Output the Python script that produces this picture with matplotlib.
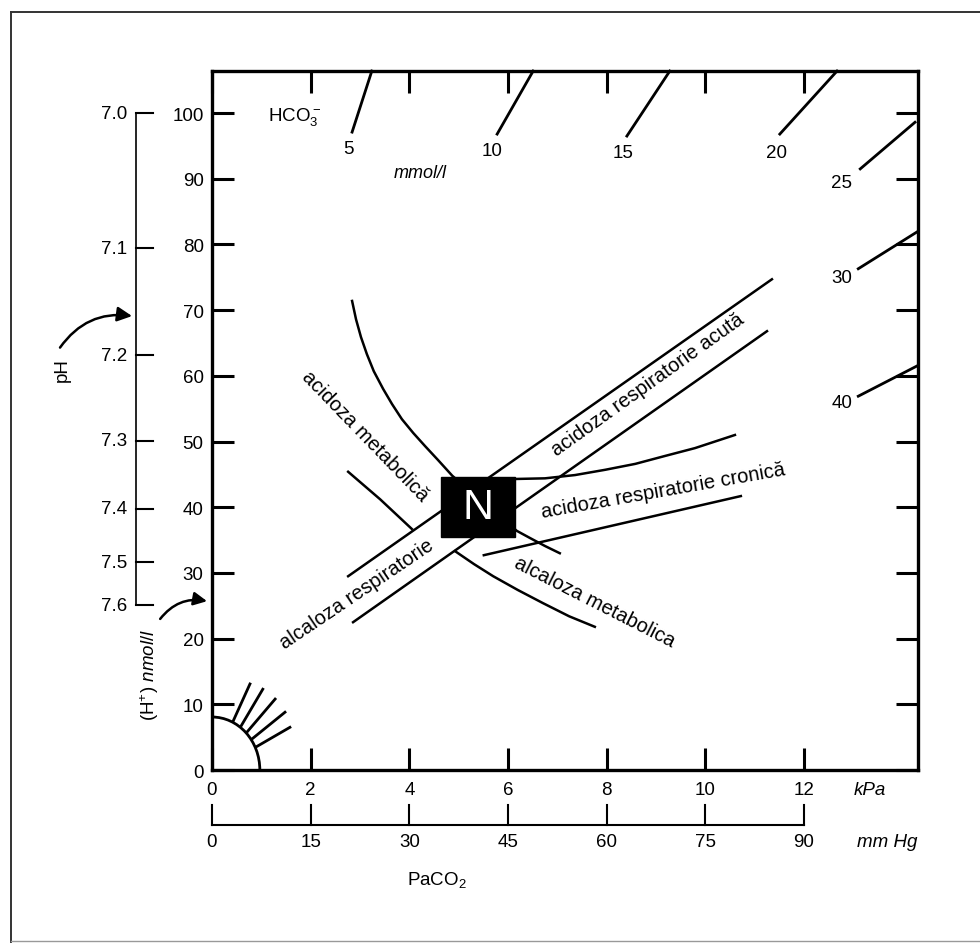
import numpy as np
import matplotlib
matplotlib.use("Agg")
import matplotlib.pyplot as plt
from matplotlib.patches import Rectangle, Arc
from matplotlib.lines import Line2D

plt.rcParams['font.family'] = ['Liberation Sans', 'DejaVu Sans']
plt.rcParams['mathtext.fontset'] = 'custom'
plt.rcParams['mathtext.rm'] = 'Liberation Sans'
plt.rcParams['mathtext.it'] = 'Liberation Sans:italic'
plt.rcParams['mathtext.bf'] = 'Liberation Sans:bold'

# axes: PaCO2 (kPa) on x, [H+] (nmol/l) on y
kpa_ticks = [0, 2, 4, 6, 8, 10, 12]
mmhg_labels = [0, 15, 30, 45, 60, 75, 90]
h_ticks = [0, 10, 20, 30, 40, 50, 60, 70, 80, 90, 100]

# pH scale, placed at the matching [H+] values
ph_labels = ["7.0", "7.1", "7.2", "7.3", "7.4", "7.5", "7.6"]
ph_h = [100, 79.4, 63.1, 50.1, 39.8, 31.6, 25.1]

# HCO3- isopleth stubs (start -> end on frame) and their labels
hco3_labels = ["5", "10", "15", "20", "25", "30", "40"]
hco3_x0 = [2.84, 5.78, 8.41, 11.51, 13.14, 13.10, 13.10]
hco3_y0 = [97.1, 96.8, 96.5, 96.8, 91.5, 76.3, 56.9]
hco3_x1 = [3.24, 6.51, 9.28, 12.67, 14.25, 14.29, 14.29]
hco3_y1 = [106.4, 106.4, 106.4, 106.4, 98.6, 81.9, 61.5]
hco3_lx = [2.76, 5.68, 8.33, 11.45, 12.77, 12.77, 12.77]
hco3_ly = [94.6, 94.3, 94.0, 94.0, 89.4, 75.0, 56.0]

# band boundaries
resp_upper_x = [2.76, 11.35]
resp_upper_y = [29.5, 74.7]
resp_lower_x = [2.86, 11.25]
resp_lower_y = [22.5, 66.8]
met_acid_x = [2.84, 2.92, 3.02, 3.14, 3.28, 3.47, 3.65, 3.85, 4.08, 4.32, 4.58, 4.87,
              5.53, 6.18, 6.45, 6.75, 7.05]
met_acid_y = [71.4, 68.6, 65.9, 63.3, 60.7, 58.0, 55.7, 53.4, 51.3, 49.3, 47.2, 44.8,
              40.5, 36.4, 35.3, 34.1, 33.0]
met_alk_x = [2.76, 3.41, 4.05, np.nan, 4.93, 5.31, 5.70, 6.20, 6.71, 7.24, 7.76]
met_alk_y = [45.4, 41.2, 36.7, np.nan, 33.3, 31.35, 29.5, 27.4, 25.4, 23.4, 21.8]
chron_upper_x = [6.14, 6.75, 7.36, 7.97, 8.58, 9.18, 9.79, 10.60]
chron_upper_y = [44.3, 44.4, 44.9, 45.7, 46.6, 47.8, 49.0, 51.0]
chron_lower_x = [5.51, 10.72]
chron_lower_y = [32.7, 41.7]

# normal box
n_box = (4.65, 35.5, 6.14, 44.6)

# small fan in the corner
fan_x0 = [0.43, 0.59, 0.71, 0.81, 0.89]
fan_y0 = [7.46, 6.70, 5.78, 4.72, 3.50]
fan_x1 = [0.77, 1.03, 1.28, 1.48, 1.58]
fan_y1 = [13.1, 12.3, 10.8, 8.8, 6.5]

region_labels = ["acidoza metabolică", "acidoza respiratorie acută",
                 "acidoza respiratorie cronică", "alcaloza respiratorie",
                 "alcaloza metabolica"]
region_x = [3.11, 8.84, 9.14, 2.94, 7.76]
region_y = [51.0, 58.7, 42.6, 26.8, 25.7]
region_rot = [-46, 35.5, 10, 34, -27]

fig = plt.figure(figsize=(9.8, 9.45), dpi=100)
ax = fig.add_axes([0.2163, 0.1841, 0.7204, 0.7397])
ax.set_xlim(0, 14.31)
ax.set_ylim(0, 106.4)

for s in ax.spines.values():
    s.set_linewidth(2.4)
ax.set_xticks(kpa_ticks)
ax.set_xticklabels([str(v) for v in kpa_ticks])
ax.set_yticks(h_ticks)
ax.set_yticklabels([str(v) for v in h_ticks])
ax.tick_params(axis='both', direction='in', length=16, width=2.2,
               top=True, right=True, labelsize=13.5)
ax.tick_params(axis='x', pad=8)
ax.tick_params(axis='y', pad=6)

lw = 1.8
ax.plot(resp_upper_x, resp_upper_y, color='black', lw=lw)
ax.plot(resp_lower_x, resp_lower_y, color='black', lw=lw)
ax.plot(met_acid_x, met_acid_y, color='black', lw=lw)
ax.plot(met_alk_x, met_alk_y, color='black', lw=lw)
ax.plot(chron_upper_x, chron_upper_y, color='black', lw=lw)
ax.plot(chron_lower_x, chron_lower_y, color='black', lw=lw)

for i in range(len(hco3_labels)):
    ax.plot([hco3_x0[i], hco3_x1[i]], [hco3_y0[i], hco3_y1[i]], color='black', lw=2.0,
            clip_on=False)
    ax.text(hco3_lx[i], hco3_ly[i], hco3_labels[i], fontsize=13.5, ha='center', va='center')
ax.text(1.68, 99.5, r"HCO$_3^-$", fontsize=13.5, ha='center', va='center')
ax.text(4.22, 91.0, "mmol/l", fontsize=13, style='italic', ha='center', va='center')

x0, y0, x1, y1 = n_box
ax.add_patch(Rectangle((x0, y0), x1 - x0, y1 - y0, facecolor='black', edgecolor='black', zorder=5))
ax.text((x0 + x1) / 2, (y0 + y1) / 2, "N", color='white', fontsize=31,
        ha='center', va='center', zorder=6)

for i in range(len(region_labels)):
    ax.text(region_x[i], region_y[i], region_labels[i], fontsize=14.5,
            rotation=region_rot[i], rotation_mode='anchor', ha='center', va='center')

# corner fan
ax.add_patch(Arc((0, 0), 2 * 0.97, 2 * 8.07, theta1=0, theta2=90, lw=2.0, color='black'))
for i in range(len(fan_x0)):
    ax.plot([fan_x0[i], fan_x1[i]], [fan_y0[i], fan_y1[i]], color='black', lw=2.0)

# pH scale on the left
ph_x = -1.54
ax.plot([ph_x, ph_x], [ph_h[0], ph_h[-1]], color='black', lw=1.2, clip_on=False)
for v, lab in zip(ph_h, ph_labels):
    ax.plot([ph_x, ph_x + 0.34], [v, v], color='black', lw=1.5, clip_on=False)
    ax.text(ph_x - 0.17, v, lab, fontsize=13.5, ha='right', va='center')
ax.text(-3.04, 61.0, "pH", fontsize=13.5, rotation=90, ha='center', va='center')
ax.annotate("", xy=(-1.62, 69.1), xytext=(-3.08, 64.3), annotation_clip=False,
            arrowprops=dict(arrowstyle='-|>', connectionstyle='arc3,rad=-0.3',
                            color='black', lw=1.8, mutation_scale=22, shrinkA=0, shrinkB=0))
ax.text(-1.26, 14.6, r"(H$^{+}$) $\mathit{nmol/l}$", fontsize=13.5, rotation=90,
        ha='center', va='center')
ax.annotate("", xy=(-0.1, 25.7), xytext=(-1.05, 23.0), annotation_clip=False,
            arrowprops=dict(arrowstyle='-|>', connectionstyle='arc3,rad=-0.3',
                            color='black', lw=1.8, mutation_scale=20, shrinkA=0, shrinkB=0))

# kPa / mm Hg scales below
ax.text(13.34, -2.9, "kPa", fontsize=13.5, style='italic', ha='center', va='center')
mm_y = -8.37
mm_pos = [v / 7.5 for v in mmhg_labels]
ax.plot([mm_pos[0], mm_pos[-1]], [mm_y, mm_y], color='black', lw=1.5, clip_on=False)
for p, lab in zip(mm_pos, mmhg_labels):
    ax.plot([p, p], [mm_y, mm_y + 3.0], color='black', lw=1.5, clip_on=False)
    ax.text(p, -10.9, str(lab), fontsize=13.5, ha='center', va='center')
ax.text(13.68, -10.95, "mm Hg", fontsize=13.5, style='italic', ha='center', va='center')
ax.text(4.56, -16.6, r"PaCO$_2$", fontsize=13.5, ha='center', va='center')

# outer frame of the scanned figure
fig.add_artist(Line2D([0.011, 1.0], [0.986, 0.986], transform=fig.transFigure,
                      color='#333333', lw=1.4))
fig.add_artist(Line2D([0.011, 0.011], [0.002, 0.986], transform=fig.transFigure,
                      color='#333333', lw=1.4))
fig.add_artist(Line2D([0.011, 1.0], [0.003, 0.003], transform=fig.transFigure,
                      color='#999999', lw=1.0))

fig.savefig("out.png", dpi=100, facecolor='white')
